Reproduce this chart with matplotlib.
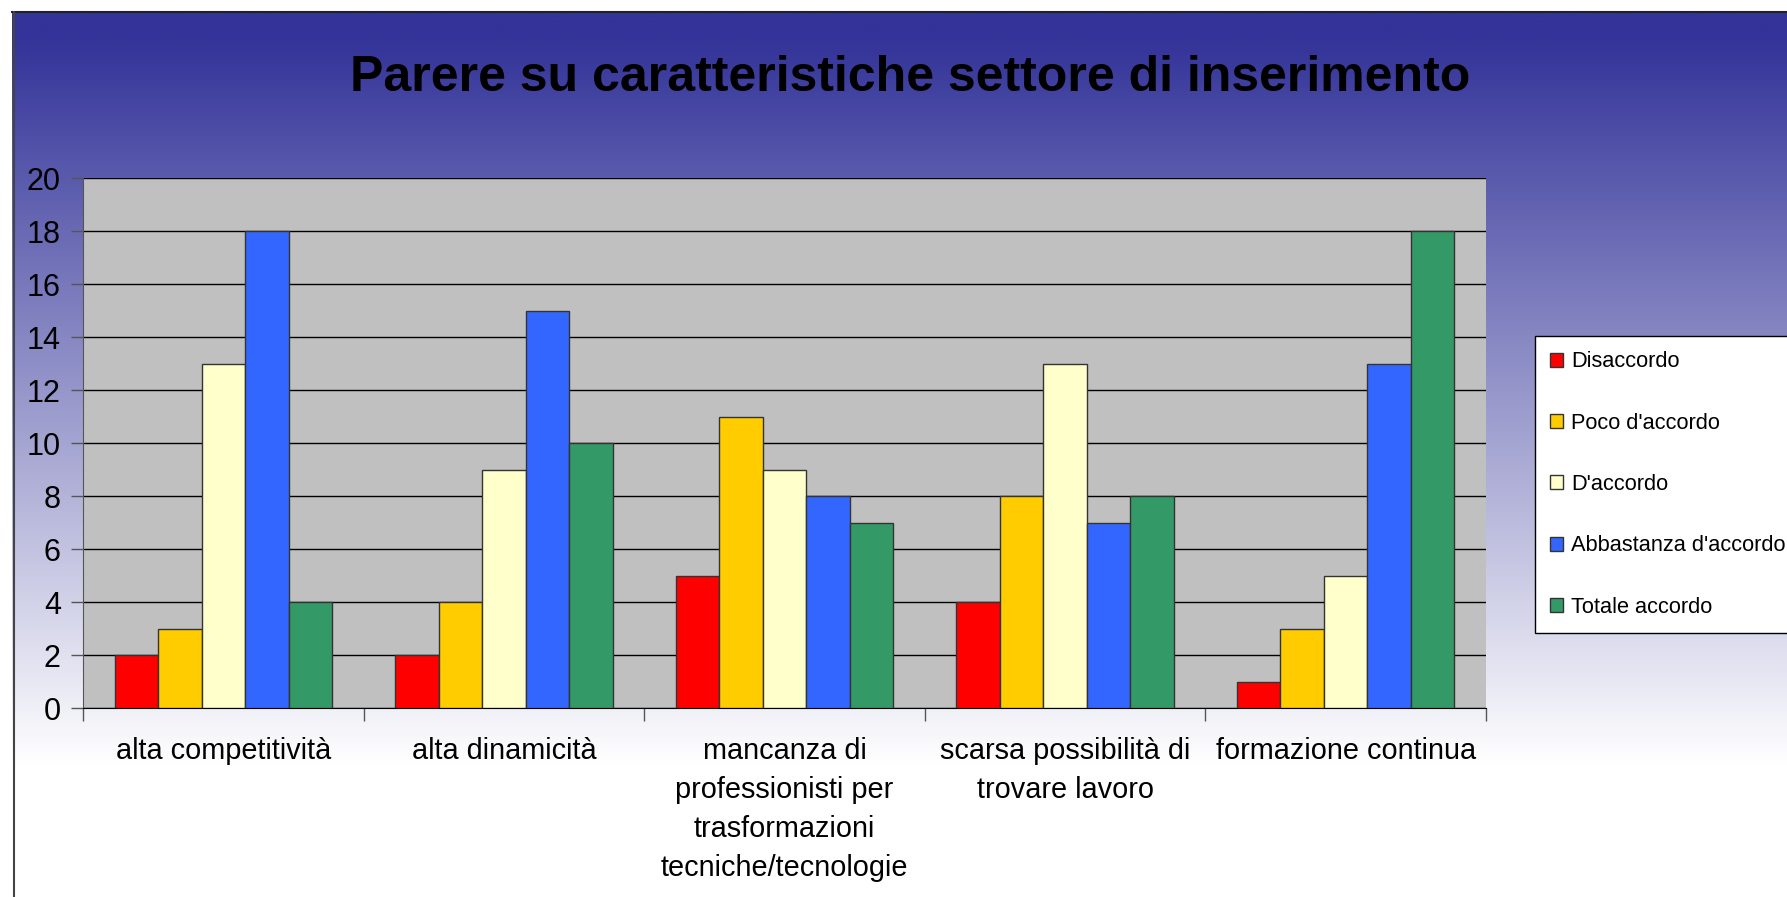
import numpy as np
import matplotlib.pyplot as plt
from matplotlib.lines import Line2D

plt.rcParams['font.family'] = ['Liberation Sans', 'DejaVu Sans']

categories = ["alta competitività", "alta dinamicità",
              "mancanza di\nprofessionisti per\ntrasformazioni\ntecniche/tecnologie",
              "scarsa possibilità di\ntrovare lavoro", "formazione continua"]
series = ["Disaccordo", "Poco d'accordo", "D'accordo", "Abbastanza d'accordo", "Totale accordo"]
disaccordo = [2, 2, 5, 4, 1]
poco = [3, 4, 11, 8, 3]
daccordo = [13, 9, 9, 13, 5]
abbastanza = [18, 15, 8, 7, 13]
totale = [4, 10, 7, 8, 18]
colors = ["#FF0000", "#FFCC00", "#FFFFCC", "#3366FF", "#339966"]

W, H = 1787, 897
fig = plt.figure(figsize=(W / 100, H / 100), dpi=100)
fig.patch.set_facecolor("white")

# gradient background inside the frame
bg = fig.add_axes([12 / W, 0, 1 - 12 / W, 1 - 12 / H], zorder=-5)
t = np.linspace(0, 1, 400)[:, None]
f = np.clip((t - 0.03) * 1.22, 0, 1)
top = np.array([0x33, 0x33, 0x99]) / 255.0
grad = top + (1 - top) * f[..., None]
grad = np.repeat(grad, 2, axis=1)
bg.imshow(grad, aspect="auto", extent=[0, 1, 0, 1], origin="upper")
bg.set_xlim(0, 1)
bg.set_ylim(0, 1)
bg.axis("off")
fig.add_artist(Line2D([12 / W, 1], [1 - 12 / H, 1 - 12 / H], color="#222222", lw=1.5, transform=fig.transFigure))
fig.add_artist(Line2D([13.5 / W, 13.5 / W], [0, 1 - 12 / H], color="#444444", lw=1.5, transform=fig.transFigure))

ax = fig.add_axes([83 / W, 1 - 708 / H, (1486 - 83) / W, (708 - 178) / H])
ax.set_facecolor("#C0C0C0")

vals = [disaccordo, poco, daccordo, abbastanza, totale]
x = np.arange(len(categories))
bw = 0.155
for i, (v, c, name) in enumerate(zip(vals, colors, series)):
    ax.bar(x + (i - 2) * bw, v, bw, color=c, edgecolor="#333333", linewidth=1, label=name, zorder=3)

ax.set_xlim(-0.5, len(categories) - 0.5)
ax.set_ylim(0, 20)
ax.set_yticks(range(0, 21, 2))
ax.yaxis.grid(True, color="black", linewidth=1, zorder=1)
ax.set_axisbelow(True)
for s in ["top", "right"]:
    ax.spines[s].set_visible(False)
ax.spines["left"].set_color("#555555")
ax.spines["bottom"].set_color("black")
ax.tick_params(axis="y", length=9, width=1, color="#555555", labelsize=22, pad=7)
ax.set_xticks(np.arange(-0.5, len(categories) + 0.5, 1))
ax.set_xticklabels([])
ax.tick_params(axis="x", length=9, width=1, color="#555555")
for xi, lab in zip(x, categories):
    ax.text(xi, -1.1, lab, ha="center", va="top", fontsize=20.8, linespacing=1.5,
            transform=ax.transData)

fig.text(910 / W, 1 - 78 / H, "Parere su caratteristiche settore di inserimento",
         ha="center", va="center", fontsize=36, fontweight="bold")

leg = fig.legend(loc="upper left", bbox_to_anchor=(1535 / W, 1 - 336 / H), fontsize=15.7,
                 frameon=True, fancybox=False, handlelength=0.6, handleheight=0.6,
                 handletextpad=0.35, labelspacing=1.85, borderpad=0.7, borderaxespad=0)
leg.get_frame().set_edgecolor("black")
leg.get_frame().set_linewidth(1)
leg.get_frame().set_facecolor("white")
leg.get_frame().set_alpha(1)

fig.savefig("out.png", dpi=100)
